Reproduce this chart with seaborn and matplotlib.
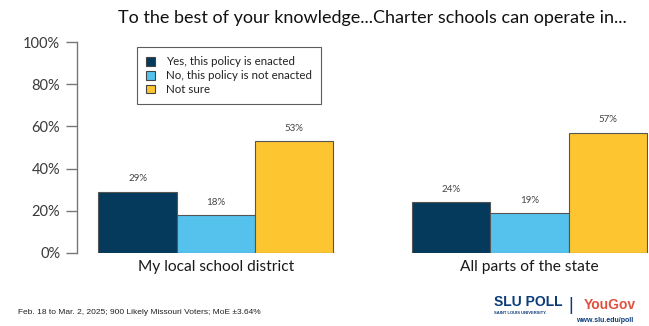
import matplotlib
matplotlib.use("Agg")
import matplotlib.pyplot as plt
import seaborn as sns
import pandas as pd
from matplotlib.patches import Patch

locations = ["My local school district", "All parts of the state"]
responses = ["Yes, this policy is enacted", "No, this policy is not enacted", "Not sure"]
yes_vals = [29, 24]
no_vals = [18, 19]
unsure_vals = [53, 57]
colors = ["#053A5C", "#55C2EE", "#FDC52F"]

rows = []
for resp, vals in zip(responses, [yes_vals, no_vals, unsure_vals]):
    for loc, v in zip(locations, vals):
        rows.append({"location": loc, "response": resp, "pct": v})
df = pd.DataFrame(rows)

sns.set_theme(style="white")
plt.rcParams["font.family"] = ["Lato", "DejaVu Sans"]

fig = plt.figure(figsize=(6.49, 3.26), dpi=100)
ax = fig.add_axes([77 / 649, (326 - 253) / 326, (648 - 77) / 649, (253 - 42) / 326])

sns.barplot(data=df, x="location", y="pct", hue="response", order=locations,
            hue_order=responses, palette=colors, saturation=1, width=0.75, gap=0,
            edgecolor="#555555", linewidth=0.8, ax=ax, legend=False)

for cont in ax.containers:
    ax.bar_label(cont, labels=[f"{v:.0f}%" for v in cont.datavalues],
                 padding=6, fontsize=7, color="#444444")

ax.set_xlim(-0.443, 1.378)
ax.set_ylim(0, 100)
ax.set_yticks(range(0, 101, 20))
ax.set_yticklabels([f"{t}%" for t in range(0, 101, 20)], fontsize=10.5, color="#3a3a3a")
ax.tick_params(axis="y", length=8, width=1, color="#777777", pad=4, left=True)
ax.tick_params(axis="x", length=0, pad=5, labelsize=11.2, labelcolor="#1a1a1a")
ax.set_xlabel("")
ax.set_ylabel("")
for s in ["top", "right", "bottom"]:
    ax.spines[s].set_visible(False)
ax.spines["left"].set_color("#777777")
ax.spines["left"].set_linewidth(1)

handles = [Patch(facecolor=c, edgecolor="#444444", linewidth=0.8) for c in colors]
leg = ax.legend(handles, responses, loc="upper left", bbox_to_anchor=(60 / 571, 1 - 5 / 211),
                fontsize=8.3, frameon=True, fancybox=False, edgecolor="#333333",
                handlelength=0.8, handleheight=0.8, handletextpad=0.9,
                borderpad=0.8, labelspacing=0.25, borderaxespad=0)
leg.get_frame().set_linewidth(0.8)
for t in leg.get_texts():
    t.set_color("#222222")

fig.text(372 / 649, 1 - 18 / 326, "To the best of your knowledge...Charter schools can operate in...",
         ha="center", va="center", fontsize=13, color="#111111")

fig.text(18 / 649, 1 - 313 / 326, "Feb. 18 to Mar. 2, 2025; 900 Likely Missouri Voters; MoE \u00b13.64%",
         ha="left", va="center", fontsize=6, color="#222222", family="Liberation Sans")

navy = "#0B3C7A"
fig.text(494 / 649, 1 - 302 / 326, "SLU POLL", ha="left", va="center", fontsize=10,
         fontweight="bold", color=navy, family="Liberation Sans")
fig.text(494 / 649, 1 - 313 / 326, "SAINT LOUIS UNIVERSITY.", ha="left", va="center",
         fontsize=3, fontweight="bold", color=navy, family="Liberation Sans")
fig.text(571 / 649, 1 - 305 / 326, "|", ha="center", va="center", fontsize=13,
         color=navy, family="Liberation Sans")
fig.text(584 / 649, 1 - 305 / 326, "YouGov", ha="left", va="center", fontsize=10,
         fontweight="bold", color="#E0523F", family="Liberation Sans")
fig.text(633 / 649, 1 - 321 / 326, "www.slu.edu/poll", ha="right", va="center",
         fontsize=5, fontweight="bold", color=navy, family="Liberation Sans")

fig.savefig("out.png", dpi=100)
